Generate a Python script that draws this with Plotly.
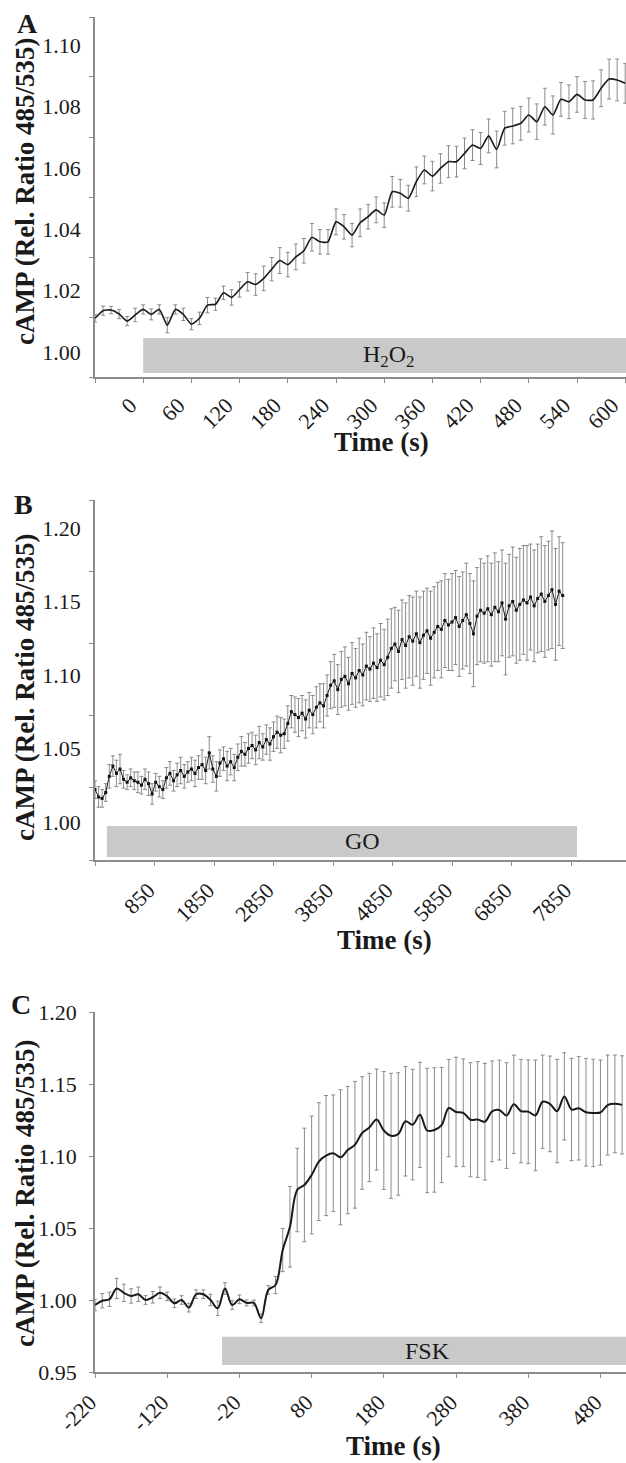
import plotly.graph_objects as go

FONT = "Liberation Serif"
INK = "#1a1a1a"
AXIS = "#8c8c8c"
ERR = "#8a8a8a"
BAR = "#c9c9c9"

# ---------------- Panel A : H2O2 ----------------
time_a = list(range(-60, 601, 10))
camp_a = [1.0110, 1.0135, 1.0137, 1.0124, 1.0101, 1.0121, 1.0139, 1.0123, 1.0139, 1.0088,
          1.0139, 1.0123, 1.0091, 1.0110, 1.0153, 1.0156, 1.0193, 1.0178, 1.0204, 1.0229,
          1.0220, 1.0240, 1.0270, 1.0298, 1.0285, 1.0310, 1.0330,
          1.0374, 1.0359, 1.0359, 1.0424, 1.0408, 1.0381, 1.0421, 1.0441, 1.0463, 1.0446,
          1.0522, 1.0517, 1.0501, 1.0555, 1.0593, 1.0573, 1.0598, 1.0620, 1.0620, 1.0647,
          1.0674, 1.0663, 1.0704, 1.0660, 1.0729, 1.0736, 1.0745, 1.0772, 1.0750, 1.0799,
          1.0772, 1.0823, 1.0815, 1.0839, 1.0821, 1.0821, 1.0859, 1.0889, 1.0886, 1.0875]
err_a = [0.0012, 0.0015, 0.0012, 0.0015, 0.0015, 0.0022, 0.0015, 0.0018, 0.0015, 0.0025,
         0.0015, 0.0020, 0.0018, 0.0020, 0.0025, 0.0020, 0.0022, 0.0025, 0.0025, 0.0030,
         0.0035, 0.0040, 0.0038, 0.0042, 0.0040, 0.0042, 0.0040,
         0.0045, 0.0040, 0.0040, 0.0042, 0.0040, 0.0038, 0.0045, 0.0040, 0.0042, 0.0040,
         0.0050, 0.0045, 0.0042, 0.0048, 0.0045, 0.0048, 0.0048, 0.0052, 0.0050, 0.0050,
         0.0050, 0.0052, 0.0055, 0.0060, 0.0055, 0.0058, 0.0055, 0.0055, 0.0058, 0.0060,
         0.0062, 0.0055, 0.0055, 0.0058, 0.0060, 0.0062, 0.0060, 0.0065, 0.0068, 0.0065]
ticks_a = [0, 60, 120, 180, 240, 300, 360, 420, 480, 540, 600]
yticks_a = [1.00, 1.02, 1.04, 1.06, 1.08, 1.10]
treat_a = {"label": "H<sub>2</sub>O<sub>2</sub>", "start": 0, "label_x": 305}

# ---------------- Panel B : GO ----------------
time_b = list(range(-150, 7711, 60))
camp_b = [1.022, 1.017, 1.016, 1.020, 1.031, 1.038, 1.033, 1.036, 1.029, 1.027,
          1.030, 1.028, 1.027, 1.025, 1.029, 1.026, 1.019, 1.027, 1.024, 1.022,
          1.030, 1.033, 1.028, 1.032, 1.035, 1.031, 1.034, 1.036, 1.033, 1.037,
          1.039, 1.035, 1.047, 1.036, 1.031, 1.040, 1.043, 1.038, 1.041, 1.037,
          1.044, 1.048, 1.046, 1.050, 1.052, 1.049, 1.054, 1.051, 1.056, 1.053,
          1.058, 1.061, 1.059, 1.060, 1.067, 1.075, 1.073, 1.071, 1.074, 1.070,
          1.076, 1.073, 1.078, 1.081, 1.079, 1.086, 1.093, 1.096, 1.090, 1.097,
          1.099, 1.094, 1.101, 1.098, 1.103, 1.100, 1.106, 1.104, 1.108, 1.105,
          1.110, 1.107, 1.112, 1.118, 1.121, 1.116, 1.124, 1.120, 1.126, 1.123,
          1.128, 1.122, 1.127, 1.130, 1.125, 1.129, 1.133, 1.131, 1.137, 1.134,
          1.136, 1.139, 1.133, 1.137, 1.141, 1.135, 1.128, 1.140, 1.144, 1.142,
          1.145, 1.141, 1.146, 1.143, 1.149, 1.138, 1.147, 1.150, 1.144, 1.148,
          1.151, 1.149, 1.153, 1.147, 1.152, 1.155, 1.150, 1.154, 1.158, 1.148,
          1.157, 1.154]
err_b = [0.006, 0.007, 0.006, 0.006, 0.008, 0.007, 0.009, 0.010, 0.006, 0.005,
         0.006, 0.006, 0.007, 0.006, 0.007, 0.008, 0.007, 0.006, 0.007, 0.006,
         0.007, 0.008, 0.007, 0.008, 0.009, 0.008, 0.007, 0.008, 0.009, 0.008,
         0.010, 0.009, 0.011, 0.009, 0.010, 0.009, 0.008, 0.010, 0.009, 0.009,
         0.009, 0.010, 0.008, 0.010, 0.009, 0.010, 0.011, 0.009, 0.010, 0.011,
         0.010, 0.011, 0.012, 0.010, 0.012, 0.011, 0.012, 0.013, 0.012, 0.013,
         0.012, 0.013, 0.014, 0.013, 0.015, 0.014, 0.016, 0.018, 0.017, 0.019,
         0.020, 0.018, 0.021, 0.020, 0.022, 0.021, 0.023, 0.022, 0.024, 0.023,
         0.025, 0.024, 0.026, 0.027, 0.025, 0.028, 0.027, 0.029, 0.028, 0.030,
         0.029, 0.031, 0.030, 0.029, 0.032, 0.031, 0.030, 0.033, 0.032, 0.031,
         0.033, 0.032, 0.034, 0.033, 0.035, 0.034, 0.036, 0.033, 0.035, 0.034,
         0.036, 0.035, 0.037, 0.034, 0.036, 0.038, 0.035, 0.037, 0.036, 0.038,
         0.037, 0.039, 0.036, 0.038, 0.037, 0.039, 0.038, 0.037, 0.040, 0.038,
         0.037, 0.036]
ticks_b = [850, 1850, 2850, 3850, 4850, 5850, 6850, 7850]
yticks_b = [1.00, 1.05, 1.10, 1.15, 1.20]
treat_b = {"label": "GO", "start": 50, "end": 7950, "label_x": 4350}

# ---------------- Panel C : FSK ----------------
time_c = list(range(-220, 511, 10))
camp_c = [0.9965, 0.9995, 1.0005, 1.0080, 1.0050, 1.0028, 1.0040, 1.0000, 1.0019, 1.0050,
          1.0025, 0.9977, 1.0000, 0.9947, 1.0040, 1.0040, 1.0000, 0.9942, 1.0080, 0.9965,
          1.0005, 0.9980, 0.9980,
          0.9873, 1.0070, 1.0104, 1.0347, 1.0509, 1.0764,
          1.0799, 1.0868, 1.0961, 1.1003, 1.1019, 1.0991, 1.1041, 1.1078, 1.1160, 1.1198,
          1.1253, 1.1177, 1.1140, 1.1153, 1.1241, 1.1218, 1.1286, 1.1177, 1.1181, 1.1215,
          1.1333, 1.1306, 1.1300, 1.1252, 1.1253, 1.1238, 1.1310, 1.1319, 1.1281, 1.1359,
          1.1312, 1.1308, 1.1282, 1.1377, 1.1362, 1.1312, 1.1414, 1.1323, 1.1331, 1.1304,
          1.1299, 1.1302, 1.1354, 1.1362, 1.1355]
err_c = [0.004, 0.005, 0.005, 0.007, 0.006, 0.005, 0.005, 0.003, 0.004, 0.004,
         0.003, 0.003, 0.003, 0.003, 0.003, 0.003, 0.004, 0.005, 0.004, 0.003,
         0.003, 0.002, 0.002,
         0.003, 0.003, 0.006, 0.015, 0.028, 0.029,
         0.0394, 0.0409, 0.0409, 0.0417, 0.0405, 0.0469, 0.0442, 0.0440, 0.0391, 0.0376,
         0.0351, 0.0409, 0.0434, 0.0425, 0.0380, 0.0384, 0.0365, 0.0432, 0.0432, 0.0400,
         0.0338, 0.0380, 0.0374, 0.0396, 0.0402, 0.0405, 0.0350, 0.0347, 0.0367, 0.0341,
         0.0359, 0.0359, 0.0384, 0.0324, 0.0332, 0.0359, 0.0303, 0.0355, 0.0359, 0.0374,
         0.0373, 0.0365, 0.0347, 0.0339, 0.0341]
ticks_c = [-220, -120, -20, 80, 180, 280, 380, 480]
yticks_c = [0.95, 1.00, 1.05, 1.10, 1.15, 1.20]
treat_c = {"label": "FSK", "start": -44, "label_x": 240}

# ---------------- layout geometry ----------------
W, H = 626, 1463
def ydom(top_px, bot_px):
    return [1 - bot_px / H, 1 - top_px / H]

panels = [
    dict(key="", letter="A", x=time_a, y=camp_a, e=err_a, xr=[-60, 601], yr=[0.9919, 1.1091],
         dom=ydom(17, 377), xt=ticks_a, xminor=[-60], yt=yticks_a,
         yminor=[0.9919, 1.0114, 1.0309, 1.0505, 1.0700, 1.0896, 1.1091],
         treat=treat_a, bar_y=[0.9932, 1.0046], shift=-13, standoff=1, spline=0.6, width=1.6,
         markers=False),
    dict(key="2", letter="B", x=time_b, y=camp_b, e=err_b, xr=[-150, 8774], yr=[0.9741, 1.2190],
         dom=ydom(500, 860), xt=ticks_b, xminor=[-150], yt=yticks_b,
         yminor=[0.9741, 1.0231, 1.0721, 1.1211, 1.1701, 1.2190],
         treat=treat_b, bar_y=[0.9762, 0.9973], shift=-6, standoff=3, spline=0, width=1.0,
         markers=True),
    dict(key="3", letter="C", x=time_c, y=camp_c, e=err_c, xr=[-220, 515.4], yr=[0.95, 1.20],
         dom=ydom(1012, 1372), xt=ticks_c, xminor=None, yt=yticks_c,
         yminor=None,
         treat=treat_c, bar_y=[0.9549, 0.9745], shift=-5, standoff=3, spline=1.0, width=2.0,
         markers=False),
]

fig = go.Figure()
shapes, annotations = [], []
letter_pos = {"A": (27, 23), "B": (23, 505), "C": (21, 1004)}
ytitle_y = {"A": 192, "B": 688, "C": 1194}
xtitle_pos = {"A": (381, 442), "B": (384, 940), "C": (393, 1446)}

for p in panels:
    k = p["key"]
    xa, ya = "x" + k, "y" + k
    mode = "lines+markers" if p["markers"] else "lines"
    fig.add_trace(go.Scatter(
        x=p["x"], y=p["y"], xaxis=xa, yaxis=ya, mode=mode,
        line=dict(color=INK, width=p["width"],
                  shape="spline" if p["spline"] else "linear",
                  smoothing=p["spline"] if p["spline"] else None),
        marker=dict(symbol="square", size=3, color="#111111"),
        error_y=dict(type="data", array=p["e"], visible=True, color=ERR,
                     thickness=1, width=2),
        showlegend=False, hoverinfo="skip"))

    xaxis = dict(domain=[95 / W, 1], range=p["xr"], anchor=ya, automargin=False,
                 showline=True, linecolor=AXIS, linewidth=1.5, ticks="outside", ticklen=4,
                 tickcolor=AXIS, tickwidth=1, showgrid=False, zeroline=False,
                 tickmode="array", tickvals=p["xt"], ticktext=[str(v) for v in p["xt"]],
                 tickangle=-45, tickfont=dict(family=FONT, size=22, color=INK),
                 ticklabelshift=p["shift"], ticklabelstandoff=p["standoff"])
    if p["xminor"]:
        xaxis.update(minor=dict(tickmode="array", tickvals=p["xminor"], ticks="outside",
                                ticklen=4, tickcolor=AXIS))
    yaxis = dict(domain=p["dom"], range=p["yr"], anchor=xa, automargin=False,
                 showline=True, linecolor=AXIS, linewidth=1.5, showgrid=False, zeroline=False,
                 tickmode="array", tickvals=p["yt"], ticktext=[f"{v:.2f}" for v in p["yt"]],
                 tickfont=dict(family=FONT, size=22, color=INK), ticklabelstandoff=8)
    if p["yminor"]:
        yaxis.update(ticks="", minor=dict(tickmode="array", tickvals=p["yminor"],
                                          ticks="outside", ticklen=4, tickcolor=AXIS))
    else:
        yaxis.update(ticks="outside", ticklen=4, tickcolor=AXIS)
    fig.update_layout({"xaxis" + k: xaxis, "yaxis" + k: yaxis})

    t = p["treat"]
    x1 = t.get("end", p["xr"][1])
    shapes.append(dict(type="rect", xref=xa, yref=ya, x0=t["start"], x1=x1,
                       y0=p["bar_y"][0], y1=p["bar_y"][1], fillcolor=BAR,
                       line=dict(width=0), layer="below"))
    annotations.append(dict(xref=xa, yref=ya, x=t["label_x"],
                            y=(p["bar_y"][0] + p["bar_y"][1]) / 2, text=t["label"],
                            xanchor="center", yanchor="middle",
                            showarrow=False, font=dict(family=FONT, size=24, color=INK)))

    lx, ly = letter_pos[p["letter"]]
    annotations.append(dict(xref="paper", yref="paper", x=lx / W, y=1 - ly / H,
                            xanchor="center", yanchor="middle",
                            text="<b>%s</b>" % p["letter"], showarrow=False,
                            font=dict(family=FONT, size=28, color=INK)))
    annotations.append(dict(xref="paper", yref="paper", x=25 / W,
                            y=1 - ytitle_y[p["letter"]] / H,
                            xanchor="center", yanchor="middle",
                            text="<b>cAMP (Rel. Ratio 485/535)</b>", textangle=-90,
                            showarrow=False, font=dict(family=FONT, size=27, color=INK)))
    tx, ty = xtitle_pos[p["letter"]]
    annotations.append(dict(xref="paper", yref="paper", x=tx / W, y=1 - ty / H,
                            xanchor="center", yanchor="middle",
                            text="<b>Time (s)</b>", showarrow=False,
                            font=dict(family=FONT, size=27, color=INK)))

fig.update_layout(width=W, height=H, margin=dict(l=0, r=0, t=0, b=0, autoexpand=False),
                  paper_bgcolor="white", plot_bgcolor="white",
                  shapes=shapes, annotations=annotations)

fig.write_html("out.html", config={"displayModeBar": False},
               post_script="document.body.style.margin='0';document.body.style.padding='0';")
